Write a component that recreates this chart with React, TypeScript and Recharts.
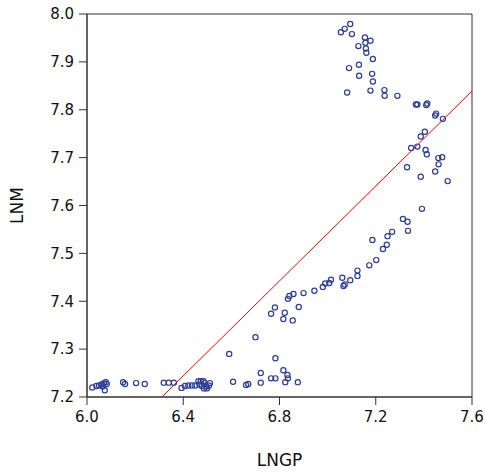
import { ReferenceArea, ReferenceLine, Scatter, ScatterChart, XAxis, YAxis } from "recharts";

const lngp = [
  6.022, 6.039, 6.05, 6.06, 6.07, 6.078, 6.074, 6.082, 6.065,
  6.15, 6.158, 6.204, 6.24, 6.319, 6.34, 6.361,
  6.393, 6.407, 6.421, 6.436, 6.45, 6.463, 6.473, 6.484, 6.467, 6.477, 6.49, 6.496, 6.486, 6.498, 6.511, 6.507,
  6.607, 6.661, 6.67, 6.722, 6.722, 6.765, 6.783, 6.816, 6.833, 6.835, 6.824, 6.876, 6.783, 6.591,
  6.7, 6.765, 6.781, 6.816, 6.822, 6.855, 6.88, 6.835, 6.841, 6.858, 6.9, 6.945, 6.98, 6.99, 7.007, 7.014,
  7.061, 7.066, 7.071, 7.094, 7.124, 7.124, 7.173, 7.202, 7.186, 7.23, 7.246, 7.249, 7.268,
  7.313, 7.332, 7.334, 7.392,
  7.33, 7.387, 7.499, 7.447, 7.461, 7.46, 7.476, 7.407, 7.412, 7.373, 7.347, 7.387, 7.404,
  7.479, 7.447, 7.451, 7.367, 7.373, 7.41, 7.414,
  7.29, 7.236, 7.237, 7.178, 7.081, 7.188, 7.185, 7.131, 7.13, 7.089, 7.188, 7.161, 7.159, 7.128,
  7.155, 7.157, 7.178, 7.055, 7.071, 7.094, 7.101,
];
const lnm = [
  7.22, 7.223, 7.224, 7.226, 7.229, 7.231, 7.214, 7.227, 7.222,
  7.231, 7.227, 7.229, 7.227, 7.23, 7.23, 7.23,
  7.219, 7.223, 7.224, 7.224, 7.224, 7.233, 7.233, 7.233, 7.226, 7.223, 7.229, 7.222, 7.218, 7.218, 7.229, 7.224,
  7.232, 7.225, 7.227, 7.23, 7.25, 7.239, 7.239, 7.256, 7.246, 7.239, 7.231, 7.231, 7.281, 7.29,
  7.325, 7.374, 7.387, 7.363, 7.376, 7.36, 7.388, 7.405, 7.411, 7.415, 7.417, 7.422, 7.43, 7.437, 7.438, 7.445,
  7.449, 7.432, 7.435, 7.444, 7.453, 7.464, 7.475, 7.486, 7.528, 7.509, 7.518, 7.536, 7.545,
  7.572, 7.566, 7.547, 7.593,
  7.68, 7.66, 7.651, 7.671, 7.686, 7.699, 7.701, 7.716, 7.707, 7.723, 7.72, 7.744, 7.754,
  7.781, 7.788, 7.792, 7.811, 7.811, 7.81, 7.813,
  7.829, 7.841, 7.829, 7.84, 7.836, 7.859, 7.875, 7.871, 7.894, 7.887, 7.906, 7.919, 7.928, 7.933,
  7.951, 7.94, 7.944, 7.962, 7.969, 7.979, 7.958,
];

// fitted line end points
const fitX = [6.311, 7.6];
const fitY = [7.2, 7.839];

const xTicks = [6.0, 6.4, 6.8, 7.2, 7.6];
const yTicks = [7.2, 7.3, 7.4, 7.5, 7.6, 7.7, 7.8, 7.9, 8.0];

const BLUE = "#2d3c97";
const FONT = "'DejaVu Sans', Arial, sans-serif";

const points = lngp.map((x, i) => ({ x, y: lnm[i] }));

function Ring(props: { cx?: number; cy?: number }) {
  if (props.cx == null || props.cy == null) return <g />;
  return (
    <circle cx={props.cx} cy={props.cy} r={2.6} fill="none" stroke={BLUE} strokeWidth={1.2} />
  );
}

export default function App() {
  const tickStyle = { fill: "#111", fontSize: 15, fontFamily: FONT };
  const labelStyle = { fill: "#111", fontSize: 17, fontFamily: FONT };
  return (
    <div style={{ position: "absolute", left: 0, top: 0, width: 485, height: 474, background: "#fff" }}>
      <ScatterChart
        width={485}
        height={474}
        margin={{ top: 14, right: 13, left: 0, bottom: 0 }}
      >
        <XAxis
          type="number"
          dataKey="x"
          domain={[6, 7.6]}
          ticks={xTicks}
          tickFormatter={(v: number) => v.toFixed(1)}
          tick={tickStyle}
          tickSize={8}
          tickMargin={6}
          height={77}
          stroke="#333"
          allowDataOverflow
          label={{ value: "LNGP", position: "insideBottom", offset: 8, style: labelStyle }}
        />
        <YAxis
          type="number"
          dataKey="y"
          domain={[7.2, 8.0]}
          ticks={yTicks}
          tickFormatter={(v: number) => v.toFixed(1)}
          tick={tickStyle}
          tickSize={8}
          tickMargin={5}
          width={87}
          stroke="#333"
          allowDataOverflow
          label={{
            value: "LNM",
            angle: -90,
            position: "insideLeft",
            offset: 17,
            style: { ...labelStyle, textAnchor: "middle" },
          }}
        />
        <ReferenceArea x1={6} x2={7.6} y1={7.2} y2={8} fill="none" fillOpacity={0} stroke="#333" strokeWidth={1} />
        <ReferenceLine
          segment={[
            { x: fitX[0], y: fitY[0] },
            { x: fitX[1], y: fitY[1] },
          ]}
          stroke="#ff0000"
          strokeWidth={1}
        />
        <Scatter data={points} shape={<Ring />} isAnimationActive={false} />
      </ScatterChart>
    </div>
  );
}
